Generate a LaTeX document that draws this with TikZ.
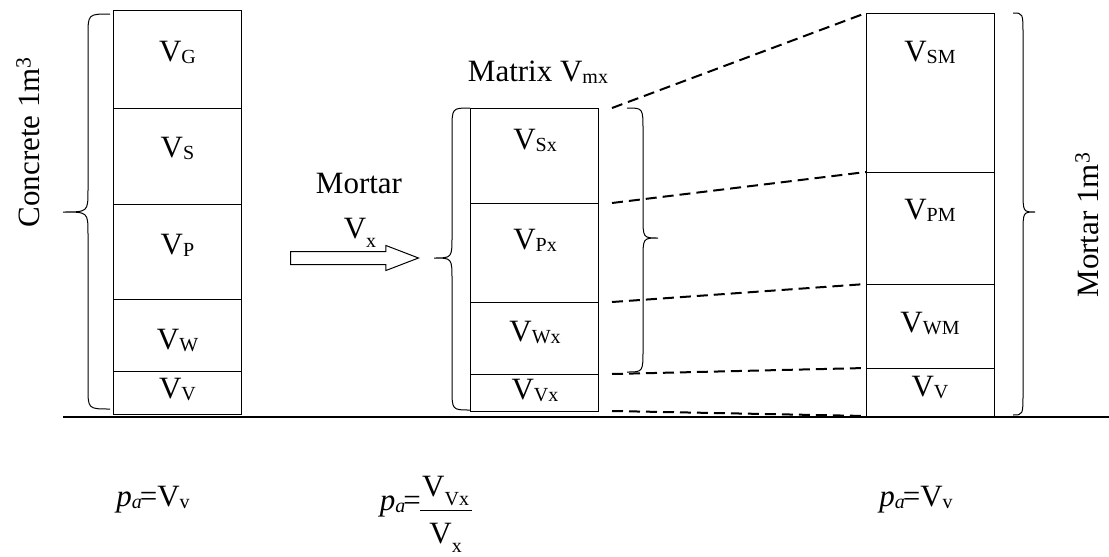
\documentclass[tikz,border=0pt]{standalone}
\usepackage{fontspec}
\setmainfont{Liberation Serif}
\usetikzlibrary{positioning, shapes.arrows}

% subscripts as the figure sets them
\newcommand{\lowsub}[1]{\raisebox{-2pt}{\fontsize{20}{20}\selectfont #1}}
\newcommand{\deepsub}[1]{\raisebox{-9pt}{\fontsize{20}{20}\selectfont #1}}

% curly brace: ends x, spine x, tip x, top y, tip y, bottom y
\newcommand{\curlybrace}[6]{%
  \draw[bracket] ({#1},{#4}) .. controls ({#2},{#4}) .. ({#2},{#4+22}) -- ({#2},{#5-22})
    .. controls ({#2},{#5}) .. ({#3},{#5}) .. controls ({#2},{#5}) .. ({#2},{#5+22})
    -- ({#2},{#6-22}) .. controls ({#2},{#6}) .. ({#1},{#6});}

\begin{document}
\begin{tikzpicture}[
    x=1pt, y=-1pt,
    cell/.style={rectangle, draw=black, line width=1pt, minimum width=128pt, inner sep=0pt, outer sep=0pt},
    vtext/.style={font=\fontsize{31}{34}\selectfont, inner sep=1pt},
    bigtext/.style={font=\fontsize{31}{34}\selectfont, inner sep=1pt},
    guide/.style={dashed, dash pattern=on 11pt off 6pt, line width=2pt},
    bracket/.style={line width=1pt},
    hollow/.style={single arrow, draw=black, line width=1pt, minimum height=128pt, single arrow head extend=6pt, single arrow tip angle=42, inner xsep=0pt, inner ysep=6pt}
]
\useasboundingbox (0,0) rectangle (1109,557);

% Left column: concrete
\node[cell, minimum height=98pt] (cg) at (177.5,59) {};
\node[cell, minimum height=96pt, below=0pt of cg] (cs) {};
\node[cell, minimum height=95pt, below=0pt of cs] (cp) {};
\node[cell, minimum height=72pt, below=0pt of cp] (cw) {};
\node[cell, minimum height=43pt, below=0pt of cw] (cv) {};
\node[vtext] (tg) at (177.5,52) {V\lowsub{G}};
\node[vtext] (ts) at (177.5,148) {V\lowsub{S}};
\node[vtext] (tp) at (177.5,245) {V\lowsub{P}};
\node[vtext] (tw) at (177.5,340) {V\lowsub{W}};
\node[vtext] (tv) at (177.5,389) {V\lowsub{V}};
\node[bigtext, rotate=90] (concrete) at (28,142) {Concrete 1m\textsuperscript{3}};

% Middle column: matrix
\node[cell, minimum height=95pt] (mxs) at (534,155.5) {};
\node[cell, minimum height=99pt, below=0pt of mxs] (mxp) {};
\node[cell, minimum height=72pt, below=0pt of mxp] (mxw) {};
\node[cell, minimum height=37pt, below=0pt of mxw] (mxv) {};
\node[vtext] (tsx) at (535,140) {V\lowsub{Sx}};
\node[vtext] (tpx) at (535,240) {V\lowsub{Px}};
\node[vtext] (twx) at (535,332) {V\lowsub{Wx}};
\node[vtext] (tvx) at (535,390) {V\lowsub{Vx}};
\node[bigtext] (matrix) at (538,72) {Matrix V\lowsub{mx}};

% Right column: mortar
\node[cell, minimum height=159pt] (sm) at (930,92.5) {};
\node[cell, minimum height=112pt, below=0pt of sm] (pm) {};
\node[cell, minimum height=84pt, below=0pt of pm] (wm) {};
\node[cell, minimum height=48pt, below=0pt of wm] (vm) {};
\node[vtext] (tsm) at (930,52) {V\lowsub{SM}};
\node[vtext] (tpm) at (930,210) {V\lowsub{PM}};
\node[vtext] (twm) at (930,323) {V\lowsub{WM}};
\node[vtext] (tvm) at (930,387) {V\lowsub{V}};
\node[bigtext, rotate=90] (mortarm) at (1087,225) {Mortar 1m\textsuperscript{3}};

% Arrow: mortar taken out
\node[bigtext] (mortar) at (359,183) {Mortar};
\node[vtext] (vx) at (360,233) {V\deepsub{x}};
\node[hollow, anchor=tail] (flow) at (290,258) {};

% Braces
\curlybrace{110}{88}{63}{14}{212}{409}
\curlybrace{470}{452}{434}{108}{258}{410}
\curlybrace{627}{643}{658}{108}{238}{372}
\curlybrace{1013}{1023}{1035}{13}{212}{415}

% Dashed guides
\draw[guide] ([xshift=14pt]mxs.north east) -- (sm.north west);
\draw[guide] ([xshift=14pt]mxp.north east) -- (pm.north west);
\draw[guide] ([xshift=14pt]mxw.north east) -- (wm.north west);
\draw[guide] ([xshift=14pt]mxv.north east) -- (vm.north west);
\draw[guide] ([xshift=14pt]mxv.south east) -- (vm.south west);

% Ground line
\coordinate (g0) at (63,417);
\coordinate (g1) at (1109,417);
\draw[line width=1.5pt] (g0) -- (g1);

% Air content
\node[vtext] (pa1) at (153,500) {\textit{p}\lowsub{\textit{a}}\kern-2pt=V\lowsub{v}};
\node[vtext, anchor=east] (pa2) at (422,506) {\textit{p}\lowsub{\textit{a}}\kern-2pt=};
\node[vtext, anchor=west, inner sep=0pt] (frac) at (420,513) {\setlength{\arrayrulewidth}{1pt}\begin{tabular}{@{\hspace{2pt}}c@{\hspace{3pt}}}V\deepsub{Vx}\\[4pt]\hline\rule{0pt}{32pt}V\deepsub{x}\end{tabular}};
\node[vtext] (pa3) at (916,500) {\textit{p}\lowsub{\textit{a}}\kern-2pt=V\lowsub{v}};

\end{tikzpicture}
\end{document}
